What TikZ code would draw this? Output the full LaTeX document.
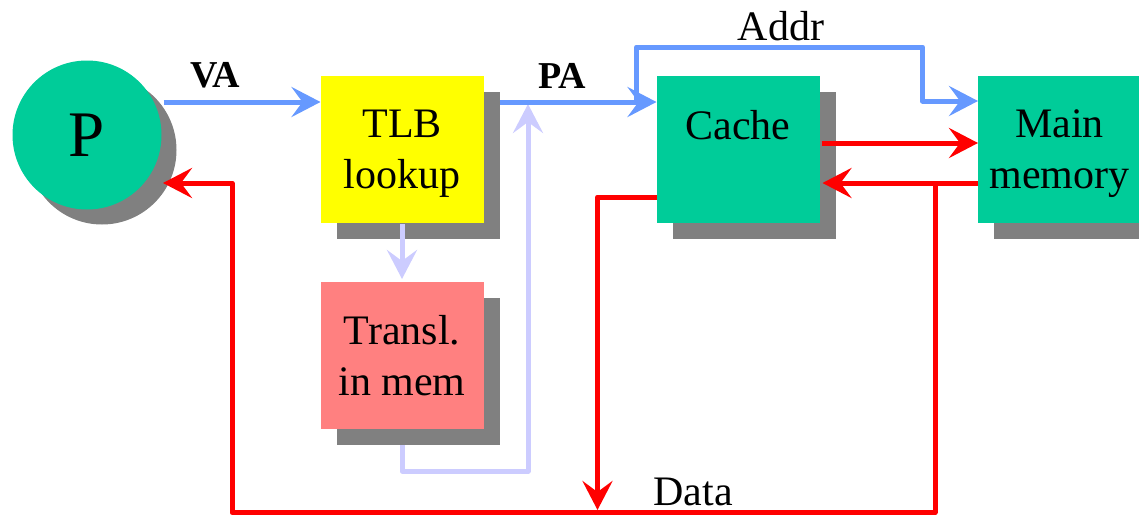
\documentclass[tikz,border=0pt]{standalone}
\usepackage{fontspec}
\setmainfont{Liberation Serif}
\usetikzlibrary{arrows.meta,shadows}
\definecolor{boxteal}{HTML}{00CC99}
\definecolor{tlbyellow}{HTML}{FFFF00}
\definecolor{translpink}{HTML}{FF8080}
\definecolor{shgray}{HTML}{808080}
\definecolor{bluec}{HTML}{6699FF}
\definecolor{lavc}{HTML}{CCCCFF}
\definecolor{redc}{HTML}{FF0000}
\begin{document}
\begin{tikzpicture}[x=1pt,y=-1pt,
  shade box/.style={general shadow={fill=shgray, shadow xshift=16pt, shadow yshift=-16pt}},
  unit/.style={shade box, rectangle, minimum width=163pt, minimum height=147pt, inner sep=0pt, outer sep=0pt},
  boxtext/.style={align=center, inner sep=0pt, font=\fontsize{42}{51}\selectfont},
  lbl/.style={inner sep=0pt, font=\fontsize{42}{51}\selectfont},
  bold lbl/.style={inner sep=0pt, font=\fontsize{38}{44}\selectfont\bfseries},
  conn/.style={line width=5pt, line join=round, -{Stealth[length=29pt,width=30pt,inset=11pt]}},
]
\useasboundingbox (0,0) rectangle (1139,514);
\clip (0,0) rectangle (1139,514);

% processor
\node[circle, fill=boxteal, minimum size=149pt, inner sep=0pt,
      general shadow={fill=shgray, shadow xshift=15pt, shadow yshift=-15pt},
      font=\fontsize{65}{70}\selectfont] (P) at (87,135) {P};

% boxes
\node[unit, fill=tlbyellow] (tlb) at (402,149.5) {};
\node[unit, fill=boxteal] (cache) at (738,149.5) {};
\node[unit, fill=boxteal] (mm) at (1059.5,149.5) {};
\node[unit, fill=translpink] (transl) at (402,355.5) {};

% box texts
\node[boxtext] (tlbt) at ([yshift=-4.5pt]tlb.center) {TLB\\lookup};
\node[boxtext] (cachet) at ([yshift=-5.5pt]cache.center) {Cache\\\phantom{lookup}};
\node[boxtext] (mmt) at ([yshift=-4.5pt]mm.center) {Main\\memory};
\node[boxtext] (translt) at (transl.center) {Transl.\\in mem};

% labels
\node[bold lbl] (va) at (215,75.5) {VA};
\node[bold lbl] (pa) at (562,75.5) {PA};
\node[lbl] (addr) at (781,26.5) {Addr};
\node[lbl] (data) at (693,492) {Data};

% translation path (lavender)
\draw[conn, lavc] ([yshift=-1pt]tlb.south) -- ([yshift=3pt]transl.north);
\draw[conn, lavc] ([yshift=-16pt]transl.south) -- ++(0,26) -- ++(126,0) -- ++(0,-367);

% address path (blue)
\draw[conn, bluec] ([shift={(2pt,33pt)}]P.east) -- ([yshift=47.5pt]tlb.west);
\draw[conn, bluec] ([shift={(16pt,47.5pt)}]tlb.east) -- ([yshift=47.5pt]cache.west);
\draw[conn, bluec] ([shift={(-20pt,47.5pt)}]cache.west) -- ++(0,-55) -- ++(286,0) -- ++(0,54) -- ([yshift=48.5pt]mm.west);

% data path (red)
\draw[conn, redc] ([shift={(2pt,6.5pt)}]cache.east) -- ([yshift=6.5pt]mm.west);
\draw[conn, redc] ([yshift=-33.5pt]mm.west) -- ([shift={(3pt,-33.5pt)}]cache.east);
\draw[conn, redc] ([shift={(-43pt,-33.5pt)}]mm.west) -- ++(0,329.5) -- ++(-703,0) -- ++(0,-329.5) -- ([shift={(76pt,-48pt)}]P.center);
\draw[conn, redc] ([yshift=-47.5pt]cache.west) -- ++(-59,0) -- ++(0,313);
\end{tikzpicture}
\end{document}
